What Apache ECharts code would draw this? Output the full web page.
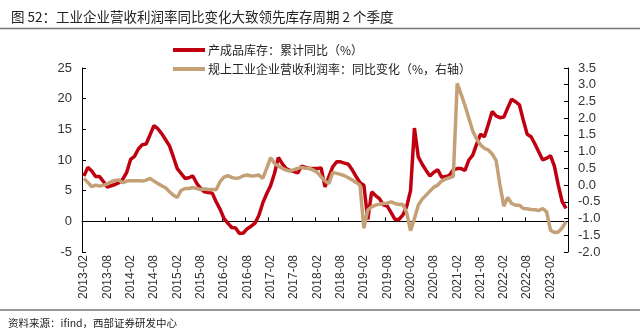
<!DOCTYPE html>
<html><head><meta charset="utf-8">
<script src="https://cdn.jsdelivr.net/npm/echarts@6/dist/echarts.min.js"></script>
<style>html,body{margin:0;padding:0;background:#fff}#c{width:640px;height:332px}</style>
</head><body><div id="c"></div>
<script>
// Monthly categories 2013-02 .. 2023-06
const startYear = 2013, startMonth = 2, pointCount = 125;
const categories = [];
for (let k = 0; k < pointCount; k++) {
  const m = startMonth - 1 + k;
  const y = startYear + Math.floor(m / 12);
  const mm = (m % 12) + 1;
  categories.push(y + '-' + (mm < 10 ? '0' + mm : mm));
}

const seriesNames = ['产成品库存：累计同比（%）', '规上工业企业营收利润率：同比变化（%，右轴）'];

// 产成品库存：累计同比（%） — left axis
const inventoryYoY = [
  7.4, 8.8, 8.2, 7.3, 7.3, 6.5, 5.6, 5.8, 6.0, 6.3,
  6.9, 8.0, 10.1, 10.6, 11.8, 12.5, 12.6, 14.1, 15.6, 15.1,
  14.3, 13.3, 12.3, 10.5, 8.6, 7.8, 7.0, 7.1, 7.4, 6.2,
  5.4, 4.8, 4.7, 4.6, 3.2, 2.0, 0.5, -0.3, -1.0, -1.1,
  -2.0, -1.9, -1.2, -0.8, -0.3, 1.0, 3.0, 4.5, 5.8, 7.8,
  10.4, 9.4, 8.6, 8.3, 8.1, 7.9, 9.0, 8.8, 8.6, 8.6,
  8.6, 8.7, 5.6, 7.3, 8.9, 9.7, 9.7, 9.5, 9.3, 8.4,
  7.3, 6.3, 5.9, 0.3, 4.8, 4.2, 3.7, 2.7, 2.5, 1.4,
  0.3, 0.3, 1.0, 2.4, 5.0, 15.2, 10.5, 9.3, 8.3, 7.4,
  8.0, 8.4, 7.2, 7.3, 7.5, 8.4, 8.6, 8.6, 8.3, 10.0,
  10.8, 12.6, 14.2, 13.8, 15.8, 17.9, 17.2, 16.9, 17.0, 18.5,
  19.9, 19.5, 19.0, 16.5, 14.2, 13.8, 12.6, 11.3, 10.0, 10.3,
  10.7, 9.0, 5.9, 3.2, 2.1
];

// 规上工业企业营收利润率：同比变化（%） — right axis
const marginChange = [
  0.20, 0.08, -0.05, 0.00, -0.03, 0.00, 0.03, 0.10, 0.14, 0.15,
  0.07, 0.12, 0.13, 0.13, 0.13, 0.12, 0.15, 0.20, 0.12, 0.05,
  -0.02, -0.08, -0.20, -0.30, -0.37, -0.16, -0.10, -0.10, -0.07, -0.10,
  -0.13, -0.12, -0.13, -0.13, -0.14, 0.10, 0.24, 0.28, 0.23, 0.20,
  0.22, 0.28, 0.30, 0.27, 0.28, 0.30, 0.20, 0.50, 0.82, 0.65,
  0.57, 0.50, 0.45, 0.42, 0.46, 0.50, 0.53, 0.50, 0.50, 0.45,
  0.38, 0.25, 0.12, 0.05, 0.38, 0.35, 0.32, 0.28, 0.22, 0.15,
  0.08, 0.00, -1.29, -0.75, -0.65, -0.60, -0.57, -0.55, -0.54, -0.50,
  -0.55, -0.58, -0.57, -0.82, -1.36, -1.00, -0.60, -0.42, -0.30, -0.18,
  -0.06, 0.00, 0.12, 0.18, 0.22, 0.26, 3.04, 2.72, 2.38, 2.00,
  1.62, 1.38, 1.20, 1.10, 1.05, 0.93, 0.74, 0.00, -0.63, -0.37,
  -0.55, -0.60, -0.60, -0.70, -0.71, -0.73, -0.74, -0.76, -0.70, -0.80,
  -1.35, -1.42, -1.40, -1.28, -1.09
];

const leftTicks = { min: -5, max: 25, interval: 5 };
const rightTicks = { min: -2, max: 3.5, interval: 0.5 };

const titleText = '图 52：工业企业营收利润率同比变化大致领先库存周期 2 个季度';
const sourceText = '资料来源：ifind，西部证券研发中心';

const RED = '#C00010';
const TAN = '#C4A077';
const CJK = '"Noto Sans CJK SC", "Liberation Sans", sans-serif';
const NUM = '"Liberation Sans", Arial, sans-serif';

const chart = echarts.init(document.getElementById('c'), null, { renderer: 'canvas' });
chart.setOption({
  animation: false,
  backgroundColor: '#fff',
  title: {
    text: titleText, left: 6, top: 5,
    textStyle: { fontFamily: CJK, fontSize: 13.5, fontWeight: 'normal', color: '#222' }
  },
  graphic: [
    { type: 'line', shape: { x1: 0, y1: 28.5, x2: 640, y2: 28.5 }, style: { stroke: '#777', lineWidth: 1.5 } },
    { type: 'line', shape: { x1: 0, y1: 310, x2: 640, y2: 310 }, style: { stroke: '#777', lineWidth: 1.5 } },
    { type: 'text', left: 8, top: 318, style: { text: sourceText, font: '10.5px "Noto Sans CJK SC", sans-serif', fill: '#222' } }
  ],
  legend: [
    { data: [seriesNames[0]], left: 168, top: 39, itemWidth: 32, itemHeight: 4, icon: 'rect', itemGap: 4,
      textStyle: { fontFamily: CJK, fontSize: 12, color: '#222', padding: [0, 0, 0, -2] } },
    { data: [seriesNames[1]], left: 168, top: 58, itemWidth: 32, itemHeight: 4, icon: 'rect', itemGap: 4,
      textStyle: { fontFamily: CJK, fontSize: 12, color: '#222', padding: [0, 0, 0, -2] } }
  ],
  grid: { left: 82, right: 72, top: 68, bottom: 80, containLabel: false },
  xAxis: {
    type: 'category', data: categories, boundaryGap: true,
    axisLine: { onZero: true, onZeroAxisIndex: 0, lineStyle: { color: '#000', width: 1 } },
    axisTick: { show: true, inside: true, length: 4, interval: 5, lineStyle: { color: '#000' } },
    axisLabel: { interval: 5, rotate: 90, margin: 3, fontFamily: NUM, fontSize: 12, color: '#333' },
    splitLine: { show: false }
  },
  yAxis: [
    { type: 'value', position: 'left', min: leftTicks.min, max: leftTicks.max, interval: leftTicks.interval,
      axisLine: { show: true, lineStyle: { color: '#000' } },
      axisTick: { show: true, inside: true, length: 4, lineStyle: { color: '#000' } },
      axisLabel: { margin: 10, fontFamily: NUM, fontSize: 13, color: '#333' },
      splitLine: { show: false } },
    { type: 'value', position: 'right', min: rightTicks.min, max: rightTicks.max, interval: rightTicks.interval,
      axisLine: { show: true, lineStyle: { color: '#000' } },
      axisTick: { show: true, inside: true, length: 4, lineStyle: { color: '#000' } },
      axisLabel: { margin: 10, fontFamily: NUM, fontSize: 13, color: '#333', formatter: v => v.toFixed(1) },
      splitLine: { show: false } }
  ],
  series: [
    { name: seriesNames[0], type: 'line', yAxisIndex: 0, data: inventoryYoY, showSymbol: false, symbol: 'none',
      lineStyle: { color: RED, width: 3.5 }, itemStyle: { color: RED } },
    { name: seriesNames[1], type: 'line', yAxisIndex: 1, data: marginChange, showSymbol: false, symbol: 'none',
      lineStyle: { color: TAN, width: 3.5 }, itemStyle: { color: TAN } }
  ]
});
</script></body></html>
